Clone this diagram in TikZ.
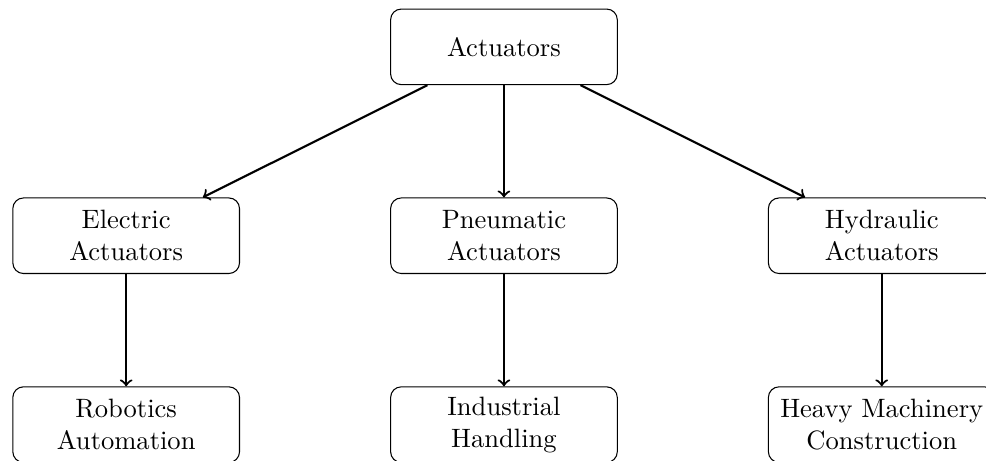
\documentclass[tikz,border=0pt]{standalone}
\usepackage{tikz}
\usetikzlibrary{arrows}
\newcommand{\drawarrow}{\draw[->, thick]}
\tikzset{
    actbox/.style={draw, rounded corners, minimum width=3cm, minimum height=1cm, align=center}
}

\begin{document}
\begin{tikzpicture}
\useasboundingbox (-6.67,-5.48) rectangle (6.38,0.62);
\node[actbox] (root) at (0,0) {Actuators};
    \node[actbox] (electric) at (-5,-2.5) {Electric\\Actuators};
    \node[actbox] (pneumatic) at (0,-2.5) {Pneumatic\\Actuators};
    \node[actbox] (hydraulic) at (5,-2.5) {Hydraulic\\Actuators};
    \node[actbox] (robotics) at (-5,-5) {Robotics\\Automation};
    \node[actbox] (industrial) at (0,-5) {Industrial\\Handling};
    \node[actbox] (heavy) at (5,-5) {Heavy Machinery\\Construction};
\drawarrow (root) -- (electric);\drawarrow (root) -- (pneumatic);\drawarrow (root) -- (hydraulic);
\drawarrow (electric) -- (robotics);\drawarrow (pneumatic) -- (industrial);\drawarrow (hydraulic) -- (heavy);
\end{tikzpicture}
\end{document}
